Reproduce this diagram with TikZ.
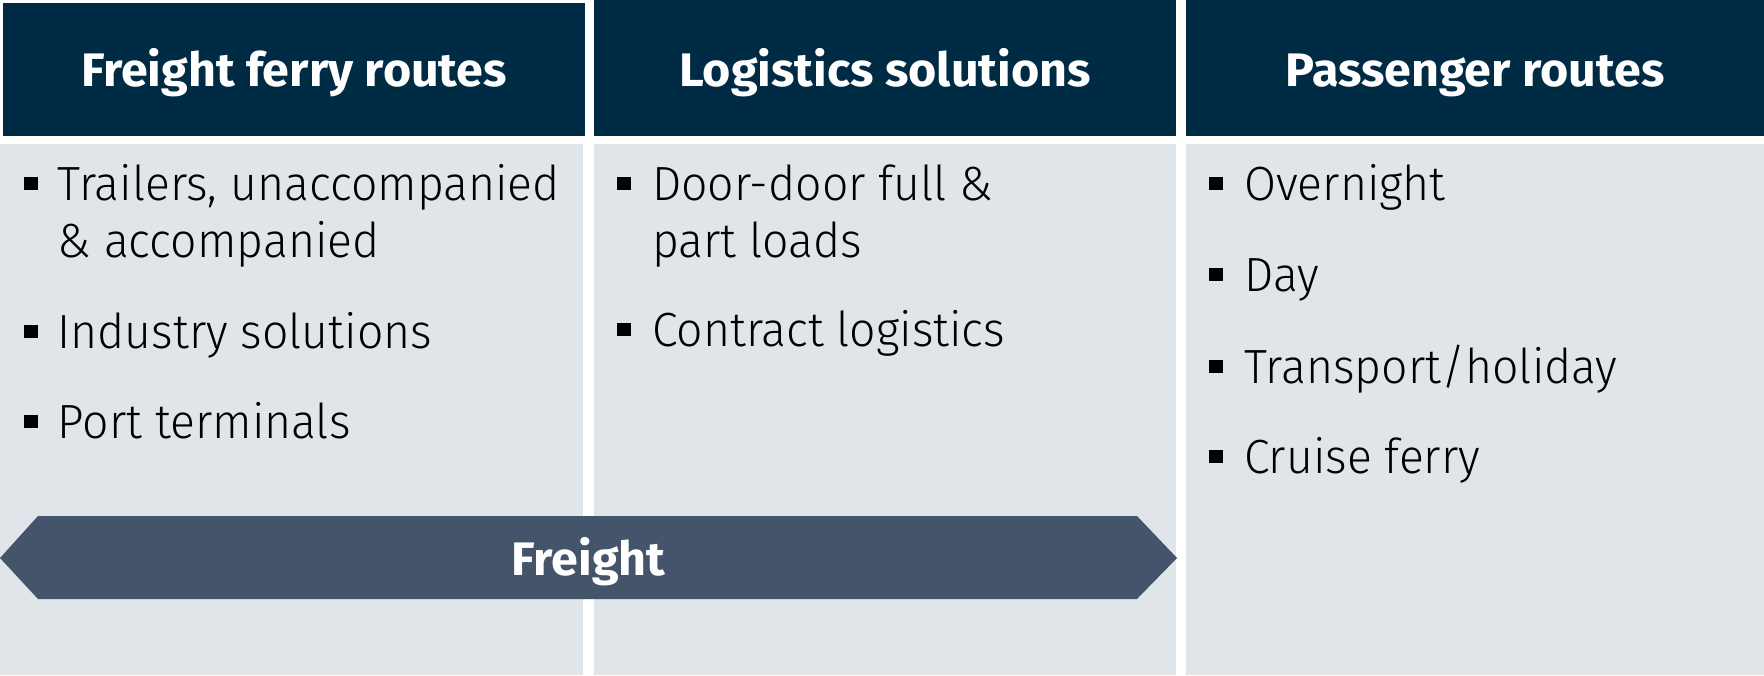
\documentclass[tikz,border=0pt]{standalone}
\usepackage{fontspec}
\setmainfont{Fira Sans}
\newfontfamily\bodyfont[FakeStretch=0.965]{Fira Sans Light}
\newfontfamily\headfont[FakeStretch=1.03]{Fira Sans}
\definecolor{navy}{HTML}{002B45}
\definecolor{panelgray}{HTML}{E0E5EA}
\definecolor{bandcol}{HTML}{44546A}
\begin{document}
\begin{tikzpicture}[x=1pt,y=-1pt,
  headbox/.style={fill=navy},
  panelbox/.style={fill=panelgray},
  headtext/.style={anchor=base, inner sep=0pt, text=white, font=\headfont\bfseries\fontsize{47}{56}\selectfont},
  itemtext/.style={anchor=base west, inner sep=0pt, text=black, font=\bodyfont\fontsize{48}{57}\selectfont},
  bullet/.style={fill=black}]
\useasboundingbox (0,0) rectangle (1764,675);
\fill[white] (0,0) rectangle (1764,675);
% headers
\fill[headbox] (3,3) rectangle (585,136);
\fill[headbox] (593.5,0) rectangle (1175.5,136);
\fill[headbox] (1186,0) rectangle (1764,136);
% panels
\fill[panelbox] (0,144) rectangle (583,675);
\fill[panelbox] (594,144) rectangle (1176,675);
\fill[panelbox] (1186,144) rectangle (1764,675);
% header texts
\node[headtext] (h1) at (294,86) {Freight ferry routes};
\node[headtext] (h2) at (885,86) {Logistics solutions};
\node[headtext] (h3) at (1475,86) {Passenger routes};
% column 1
\fill[bullet] (23.5,177) rectangle +(14,12.5);
\node[itemtext] (a1) at (57.5,200) {\begin{tabular}[t]{@{}l@{}}Trailers, unaccompanied\\ \& accompanied\end{tabular}};
\fill[bullet] (23.5,325) rectangle +(14,12.5);
\node[itemtext] (a2) at (57.5,348) {Industry solutions};
\fill[bullet] (23.5,415) rectangle +(14,12.5);
\node[itemtext] (a3) at (57.5,438) {Port terminals};
% column 2
\fill[bullet] (617,177) rectangle +(14,12.5);
\node[itemtext] (b1) at (652,200) {\begin{tabular}[t]{@{}l@{}}Door-door full \&\\ part loads\end{tabular}};
\fill[bullet] (617,323) rectangle +(14,12.5);
\node[itemtext] (b2) at (652,346) {Contract logistics};
% column 3
\fill[bullet] (1209,177) rectangle +(14,12.5);
\node[itemtext] (c1) at (1244,200) {Overnight};
\fill[bullet] (1209,268) rectangle +(14,12.5);
\node[itemtext] (c2) at (1244,291) {Day};
\fill[bullet] (1209,360) rectangle +(14,12.5);
\node[itemtext] (c3) at (1244,383) {Transport/holiday};
\fill[bullet] (1209,450) rectangle +(14,12.5);
\node[itemtext] (c4) at (1244,473) {Cruise ferry};
% freight band
\fill[bandcol] (0,558) -- (38,516) -- (1137,516) -- (1177,558) -- (1137,599) -- (38,599) -- cycle;
\node[headtext] (fr) at (588.5,575) {Freight};
\end{tikzpicture}
\end{document}
